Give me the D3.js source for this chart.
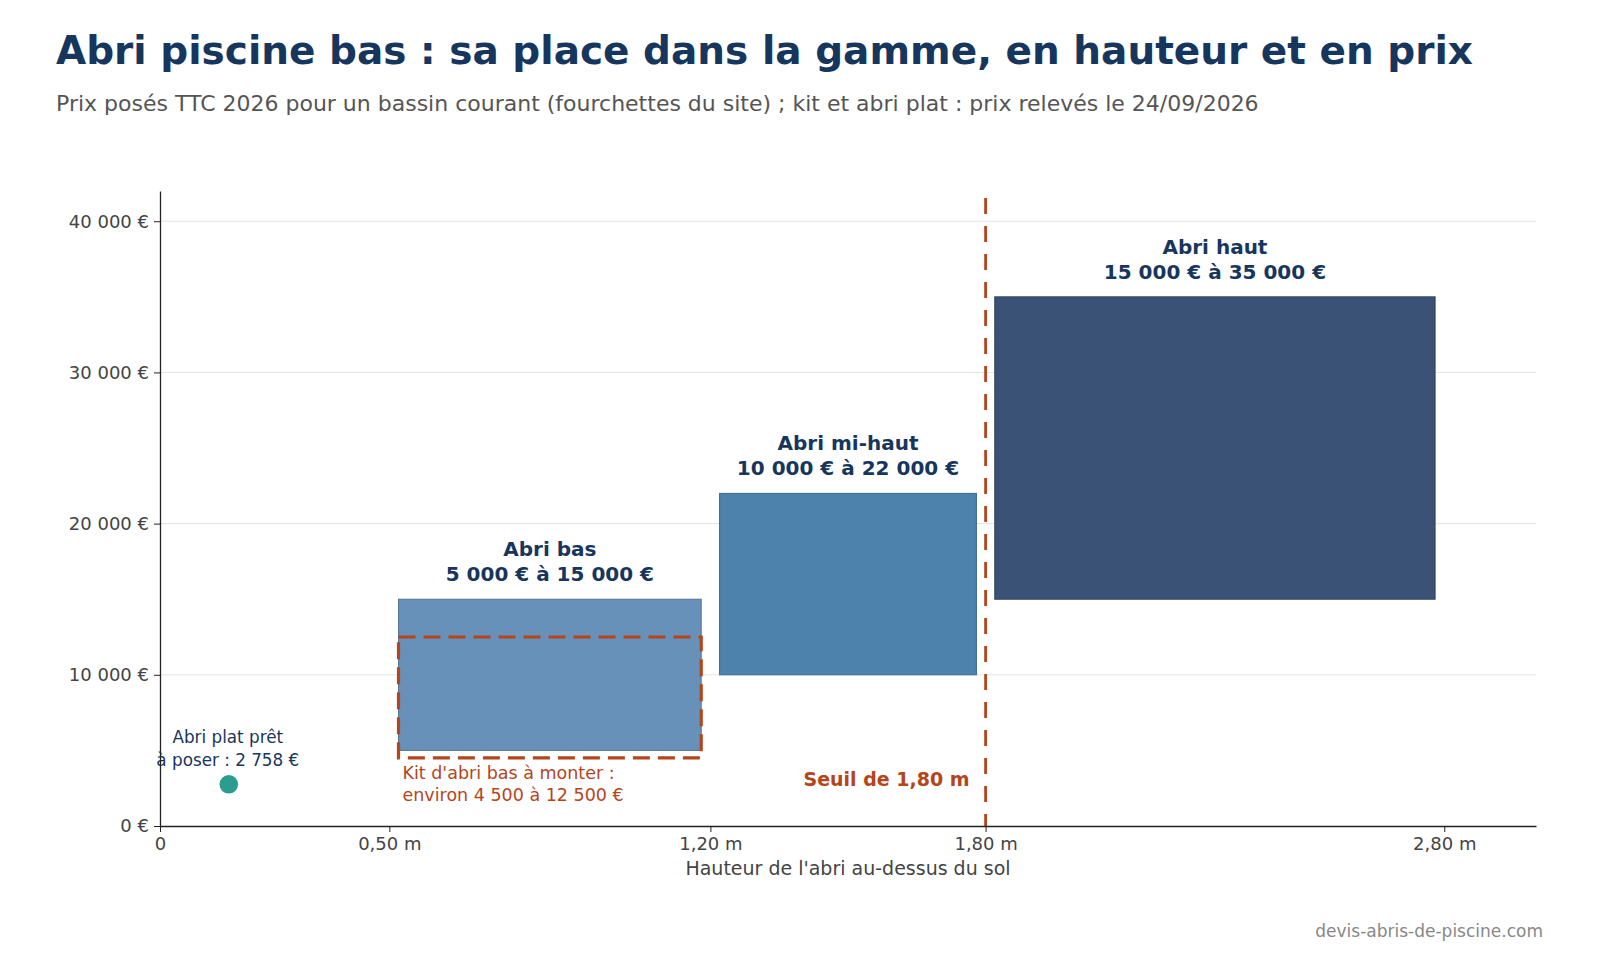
<!DOCTYPE html>
<html>
<head>
<meta charset="utf-8">
<script src="https://cdn.jsdelivr.net/npm/d3@7"></script>
<style>
  body { margin: 0; background: #fff; }
  svg { font-family: "DejaVu Sans", sans-serif; }
</style>
</head>
<body>
<div id="chart"></div>
<script>
// data
var categories = ["Abri bas", "Abri mi-haut", "Abri haut"];
var rangeLabels = ["5 000 € à 15 000 €", "10 000 € à 22 000 €", "15 000 € à 35 000 €"];
var heightFrom = [0.52, 1.22, 1.82];
var heightTo = [1.18, 1.78, 2.78];
var priceMin = [5000, 10000, 15000];
var priceMax = [15000, 22000, 35000];
var fills = ["#6891b9", "#4c82ac", "#3a5275"];

var kitHeight = [0.52, 1.18];
var kitPrice = [4500, 12500];

var flatHeight = 0.15;
var flatPrice = 2758;

var threshold = 1.80;

var xTicks = [0, 0.5, 1.2, 1.8, 2.8];
var xTickLabels = ["0", "0,50 m", "1,20 m", "1,80 m", "2,80 m"];
var yTicks = [0, 10000, 20000, 30000, 40000];

var W = 1600, H = 960;
var margin = { top: 191, right: 64, bottom: 134, left: 160 },
    width = W - margin.left - margin.right,
    height = H - margin.top - margin.bottom;

var navy = "#17365d", orange = "#b5451b", grey = "#444";

var svg = d3.select("#chart").append("svg")
    .attr("width", W)
    .attr("height", H);

svg.append("text")
    .attr("x", 56).attr("y", 64)
    .style("font-size", "39px").style("font-weight", "bold")
    .style("fill", navy)
    .text("Abri piscine bas : sa place dans la gamme, en hauteur et en prix");

svg.append("text")
    .attr("x", 56).attr("y", 111)
    .style("font-size", "22px")
    .style("fill", "#555")
    .text("Prix posés TTC 2026 pour un bassin courant (fourchettes du site) ; kit et abri plat : prix relevés le 24/09/2026");

svg.append("text")
    .attr("x", 1543).attr("y", 937)
    .attr("text-anchor", "end")
    .style("font-size", "17px")
    .style("fill", "#888")
    .text("devis-abris-de-piscine.com");

var g = svg.append("g")
    .attr("transform", "translate(" + margin.left + "," + margin.top + ")");

var x = d3.scaleLinear().domain([0, 3.0]).range([0, width]);
var y = d3.scaleLinear().domain([0, 42000]).range([height, 0]);

// grid
g.selectAll(".grid")
    .data(yTicks.slice(1))
    .enter().append("line")
    .attr("x1", 0).attr("x2", width)
    .attr("y1", function (d) { return y(d); })
    .attr("y2", function (d) { return y(d); })
    .style("stroke", "#e3e3e3").style("stroke-width", 1);

// range boxes
g.selectAll(".box")
    .data(categories)
    .enter().append("rect")
    .attr("x", function (d, i) { return x(heightFrom[i]); })
    .attr("y", function (d, i) { return y(priceMax[i]); })
    .attr("width", function (d, i) { return x(heightTo[i]) - x(heightFrom[i]); })
    .attr("height", function (d, i) { return y(priceMin[i]) - y(priceMax[i]); })
    .style("fill", function (d, i) { return fills[i]; })
    .style("stroke", function (d, i) { return d3.color(fills[i]).darker(0.6); })
    .style("stroke-width", 1);

var labels = g.selectAll(".lbl")
    .data(categories)
    .enter().append("text")
    .attr("text-anchor", "middle")
    .style("font-size", "20px").style("font-weight", "bold")
    .style("fill", navy);
labels.append("tspan")
    .attr("x", function (d, i) { return x((heightFrom[i] + heightTo[i]) / 2); })
    .attr("y", function (d, i) { return y(priceMax[i]) - 43; })
    .text(function (d) { return d; });
labels.append("tspan")
    .attr("x", function (d, i) { return x((heightFrom[i] + heightTo[i]) / 2); })
    .attr("y", function (d, i) { return y(priceMax[i]) - 18; })
    .text(function (d, i) { return rangeLabels[i]; });

// kit box
g.append("rect")
    .attr("x", x(kitHeight[0]))
    .attr("y", y(kitPrice[1]))
    .attr("width", x(kitHeight[1]) - x(kitHeight[0]))
    .attr("height", y(kitPrice[0]) - y(kitPrice[1]))
    .style("fill", "none")
    .style("stroke", orange).style("stroke-width", 3.2)
    .style("stroke-dasharray", "17,8");

var kitText = g.append("text")
    .style("font-size", "17.5px").style("fill", orange);
kitText.append("tspan").attr("x", x(kitHeight[0]) + 4).attr("y", y(kitPrice[0]) + 21)
    .text("Kit d'abri bas à monter :");
kitText.append("tspan").attr("x", x(kitHeight[0]) + 4).attr("y", y(kitPrice[0]) + 43)
    .text("environ 4 500 à 12 500 €");

// threshold
g.append("line")
    .attr("x1", x(threshold)).attr("x2", x(threshold))
    .attr("y1", 7).attr("y2", height)
    .style("stroke", orange).style("stroke-width", 2.8)
    .style("stroke-dasharray", "16,12");

g.append("text")
    .attr("x", x(threshold) - 16).attr("y", height - 40)
    .attr("text-anchor", "end")
    .style("font-size", "19px").style("font-weight", "bold")
    .style("fill", orange)
    .text("Seuil de 1,80 m");

// flat shelter point
g.append("circle")
    .attr("cx", x(flatHeight)).attr("cy", y(flatPrice))
    .attr("r", 9.3)
    .style("fill", "#2a9d8f");

var flatText = g.append("text")
    .attr("text-anchor", "middle")
    .style("font-size", "16.8px").style("fill", navy);
flatText.append("tspan").attr("x", x(flatHeight) - 1).attr("y", y(flatPrice) - 41)
    .text("Abri plat prêt");
flatText.append("tspan").attr("x", x(flatHeight) - 1).attr("y", y(flatPrice) - 18)
    .text("à poser : 2 758 €");

// axes
var xAxis = g.append("g")
    .attr("transform", "translate(0," + height + ")")
    .call(d3.axisBottom(x).tickValues(xTicks)
        .tickFormat(function (d, i) { return xTickLabels[i]; })
        .tickSize(6).tickSizeOuter(0).tickPadding(5));
xAxis.select(".domain").style("stroke", "#222").style("stroke-width", 1.3);

var yAxis = g.append("g")
    .call(d3.axisLeft(y).tickValues(yTicks)
        .tickFormat(function (d) { return d3.format(",")(d).replace(/,/g, " ") + " €"; })
        .tickSize(6).tickSizeOuter(0).tickPadding(5));
yAxis.select(".domain").style("stroke", "#222").style("stroke-width", 1.3);

[xAxis, yAxis].forEach(function (a) {
    a.selectAll("text").style("font-size", "18px").style("fill", grey)
        .style("font-family", "DejaVu Sans, sans-serif");
    a.selectAll(".tick line").style("stroke", "#222");
});

g.append("text")
    .attr("x", width / 2).attr("y", height + 49)
    .attr("text-anchor", "middle")
    .style("font-size", "19px").style("fill", grey)
    .text("Hauteur de l'abri au-dessus du sol");
</script>
</body>
</html>
